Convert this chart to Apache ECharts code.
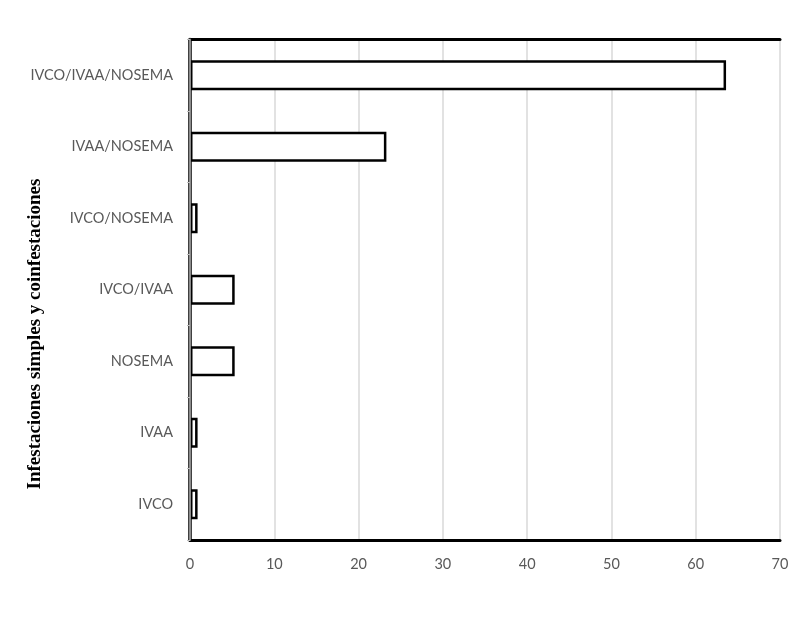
<!DOCTYPE html>
<html><head><meta charset="utf-8">
<script src="https://cdn.jsdelivr.net/npm/echarts@6/dist/echarts.min.js"></script>
<style>html,body{margin:0;padding:0;background:#fff}#c{width:803px;height:618px}</style>
</head><body><div id="c"></div>
<script>
const categories = ["IVCO", "IVAA", "NOSEMA", "IVCO/IVAA", "IVCO/NOSEMA", "IVAA/NOSEMA", "IVCO/IVAA/NOSEMA"];
const values = [0.9, 0.9, 5.3, 5.3, 0.9, 23.3, 63.6];
const axisTitle = "Infestaciones simples y coinfestaciones";
const xMin = 0, xMax = 70, xStep = 10;

const chart = echarts.init(document.getElementById('c'));
const labelFont = 'Lato, "Open Sans", sans-serif';
chart.setOption({
  animation: false,
  grid: { left: 190, right: 23, top: 39.5, bottom: 78, containLabel: false },
  xAxis: [{
    type: 'value', min: xMin, max: xMax, interval: xStep, position: 'bottom',
    axisLine: { show: true, lineStyle: { color: '#000', width: 3 } },
    axisTick: { show: false },
    axisLabel: { color: '#595959', fontSize: 14.5, fontFamily: labelFont, margin: 17 },
    splitLine: { show: true, lineStyle: { color: '#d9d9d9', width: 1.5 } }
  }, {
    type: 'value', min: xMin, max: xMax, position: 'top',
    axisLine: { show: true, lineStyle: { color: '#000', width: 3 } },
    axisTick: { show: false }, axisLabel: { show: false }, splitLine: { show: false }
  }],
  yAxis: [{
    type: 'category', data: categories, position: 'left', z: 5,
    axisLine: { show: true, lineStyle: { color: '#8c8c8c', width: 2 } },
    axisTick: { show: true, length: 3, lineStyle: { color: '#bfbfbf' } },
    axisLabel: { color: '#595959', fontSize: 14.5, fontFamily: labelFont, margin: 17 }
  }, {
    type: 'category', data: categories, position: 'right',
    axisLine: { show: true, lineStyle: { color: '#000', width: 3.5 } },
    axisTick: { show: false }, axisLabel: { show: false }
  }],
  series: [{
    type: 'bar', data: values, xAxisIndex: 0, yAxisIndex: 0,
    barCategoryGap: '58%',
    itemStyle: { color: '#fff', borderColor: '#000', borderWidth: 2.5 }
  }],
  graphic: [{
    type: 'text', x: 35, y: 334, rotation: Math.PI / 2,
    style: { text: axisTitle, font: 'bold 19px "Liberation Serif", serif', fill: '#000',
      textAlign: 'center', textVerticalAlign: 'middle' }
  }]
});
</script></body></html>
